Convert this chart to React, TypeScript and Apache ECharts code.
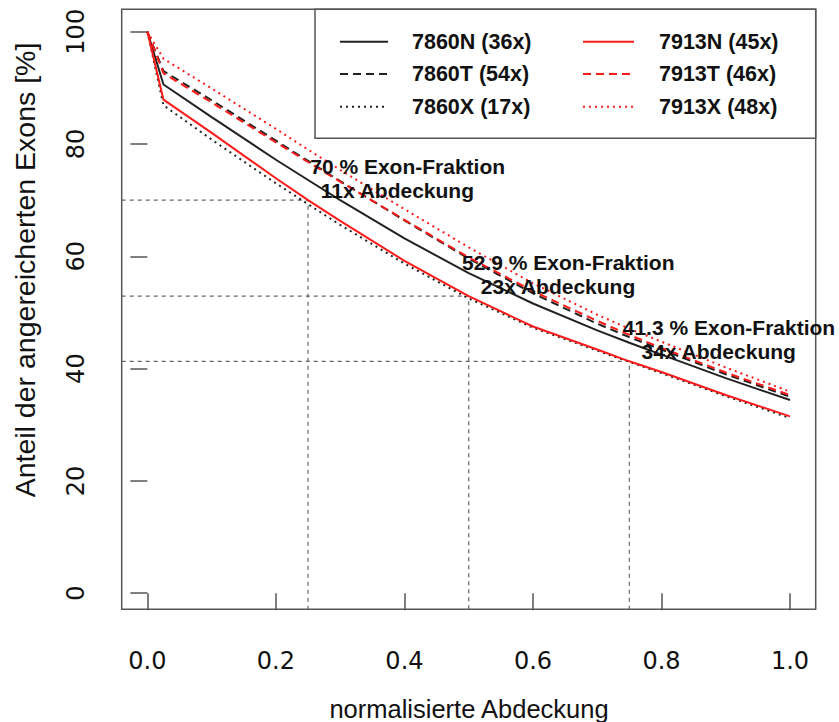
import React, { useEffect, useRef } from 'react';
import * as echarts from 'echarts';

// normalised coverage (x) and share of enriched exons [%] (y)
const coverage = [0, 0.025, 0.1, 0.2, 0.25, 0.3, 0.4, 0.5, 0.6, 0.7, 0.75, 0.8, 0.9, 1.0];
const exons7860N = [100, 90.6, 84.8, 77.2, 73.6, 70.0, 63.2, 57.0, 51.6, 46.8, 44.6, 42.5, 38.3, 34.4];
const exons7860T = [100, 93.0, 87.8, 80.6, 77.0, 73.4, 66.4, 59.6, 53.4, 48.0, 45.6, 43.4, 39.0, 35.0];
const exons7860X = [100, 86.9, 80.8, 73.0, 69.3, 65.6, 58.7, 52.5, 47.3, 43.2, 41.2, 39.2, 35.1, 31.2];
const exons7913N = [100, 87.9, 82.0, 73.9, 70.0, 66.3, 59.2, 52.9, 47.5, 43.4, 41.3, 39.4, 35.3, 31.5];
const exons7913T = [100, 92.6, 87.4, 80.3, 76.8, 73.3, 66.5, 59.8, 53.8, 48.5, 46.0, 43.7, 39.3, 35.3];
const exons7913X = [100, 95.2, 89.9, 82.7, 79.0, 75.4, 68.4, 61.6, 55.2, 49.6, 47.1, 44.8, 40.2, 35.9];

const seriesNames = ['7860N (36x)', '7860T (54x)', '7860X (17x)', '7913N (45x)', '7913T (46x)', '7913X (48x)'];
const seriesValues = [exons7860N, exons7860T, exons7860X, exons7913N, exons7913T, exons7913X];
const seriesColors = ['#222222', '#222222', '#222222', '#ff1a1a', '#ff1a1a', '#ff1a1a'];
const seriesDash: (number[] | 'solid')[] = ['solid', [8, 5], [2, 4], 'solid', [8, 5], [2, 4]];

const xTicks = [0, 0.2, 0.4, 0.6, 0.8, 1.0];
const yTicks = [0, 20, 40, 60, 80, 100];

const thresholdX = [0.25, 0.5, 0.75];
const thresholdY = [70, 52.9, 41.3];
const fractionLabels = ['70 % Exon-Fraktion', '52.9 % Exon-Fraktion', '41.3 % Exon-Fraktion'];
const depthLabels = ['11x Abdeckung', '23x Abdeckung', '34x Abdeckung'];

const X_MIN = -0.04;
const X_MAX = 1.04;
const Y_MIN = -2.87;
const Y_MAX = 104;

const FONT = '"Liberation Sans", Arial, sans-serif';
const TICK_FONT = '"DejaVu Sans", sans-serif';

export default function App() {
  const ref = useRef<HTMLDivElement>(null);

  useEffect(() => {
    if (!ref.current) return;
    const chart = echarts.init(ref.current, null, { renderer: 'svg' });

    const lineSeries = seriesNames.map((name, i) => ({
      name,
      type: 'line',
      data: coverage.map((x, j) => [x, seriesValues[i][j]]),
      symbol: 'none',
      silent: true,
      z: 3,
      lineStyle: { color: seriesColors[i], width: 2, type: seriesDash[i], cap: 'butt' },
    }));

    const refSeries = thresholdX.map((tx, i) => ({
      name: 'ref' + i,
      type: 'line',
      data: [
        [X_MIN, thresholdY[i]],
        [tx, thresholdY[i]],
        [tx, Y_MIN],
      ],
      symbol: 'none',
      silent: true,
      z: 2,
      lineStyle: { color: '#666', width: 1.2, type: [4, 4] },
    }));

    chart.setOption({
      animation: false,
      backgroundColor: '#ffffff',
      grid: {
        left: 121.7,
        top: 9.3,
        width: 694,
        height: 600,
        show: true,
        borderColor: '#555',
        borderWidth: 1.5,
        backgroundColor: 'transparent',
      },
      xAxis: {
        type: 'value',
        min: X_MIN,
        max: X_MAX,
        splitLine: { show: false },
        axisLine: { show: false },
        axisTick: {
          show: true,
          customValues: xTicks,
          length: 17,
          inside: false,
          lineStyle: { color: '#555', width: 1.5 },
        },
        axisLabel: {
          customValues: xTicks,
          formatter: (v: number) => v.toFixed(1),
          margin: 40,
          fontSize: 24,
          fontFamily: TICK_FONT,
          color: '#111',
        },
      },
      yAxis: {
        type: 'value',
        min: Y_MIN,
        max: Y_MAX,
        splitLine: { show: false },
        axisLine: { show: false },
        axisTick: {
          show: true,
          customValues: yTicks,
          length: 17,
          inside: false,
          lineStyle: { color: '#555', width: 1.5 },
        },
        axisLabel: {
          customValues: yTicks,
          formatter: (v: number) => String(Math.round(v)),
          rotate: 90,
          margin: 34,
          fontSize: 24,
          fontFamily: TICK_FONT,
          color: '#111',
        },
      },
      series: [...refSeries, ...lineSeries],
    });

    // annotations positioned through the chart's own scales
    const annotations: any[] = [];
    thresholdX.forEach((tx, i) => {
      const p1 = chart.convertToPixel({ gridIndex: 0 }, [tx + 0.155, thresholdY[i] + 6.0]) as number[];
      const p2 = chart.convertToPixel({ gridIndex: 0 }, [tx + 0.139, thresholdY[i] + 1.8]) as number[];
      annotations.push({
        type: 'text',
        x: p1[0],
        y: p1[1],
        z: 10,
        style: {
          text: fractionLabels[i],
          fontSize: 21,
          fontWeight: 'bold',
          fontFamily: FONT,
          fill: '#111',
          align: 'center',
          verticalAlign: 'middle',
        },
      });
      annotations.push({
        type: 'text',
        x: p2[0],
        y: p2[1],
        z: 10,
        style: {
          text: depthLabels[i],
          fontSize: 21,
          fontWeight: 'bold',
          fontFamily: FONT,
          fill: '#111',
          align: 'center',
          verticalAlign: 'middle',
        },
      });
    });

    // legend box (2 columns x 3 rows)
    const legendRowsY = [41.7, 74, 106.7];
    const legendCols = [
      { lx1: 340, lx2: 388, tx: 412 },
      { lx1: 583, lx2: 634, tx: 659 },
    ];
    const legendEls: any[] = [
      {
        type: 'rect',
        shape: { x: 315, y: 9.3, width: 500.7, height: 129 },
        style: { fill: '#fff', stroke: '#555', lineWidth: 1.5 },
        z: 5,
      },
    ];
    seriesNames.forEach((name, i) => {
      const col = legendCols[Math.floor(i / 3)];
      const y = legendRowsY[i % 3];
      const dash = seriesDash[i];
      legendEls.push({
        type: 'line',
        shape: { x1: col.lx1, y1: y, x2: col.lx2, y2: y },
        style: {
          stroke: seriesColors[i],
          lineWidth: 2,
          lineDash: dash === 'solid' ? null : dash,
        },
        z: 6,
      });
      legendEls.push({
        type: 'text',
        x: col.tx,
        y,
        z: 6,
        style: {
          text: name,
          fontSize: 21.5,
          fontWeight: 'bold',
          fontFamily: FONT,
          fill: '#111',
          align: 'left',
          verticalAlign: 'middle',
        },
      });
    });

    const titles: any[] = [
      {
        type: 'text',
        x: 469,
        y: 709,
        style: {
          text: 'normalisierte Abdeckung',
          fontSize: 25.5,
          fontFamily: FONT,
          fill: '#111',
          align: 'center',
          verticalAlign: 'middle',
        },
      },
      {
        type: 'text',
        x: 25,
        y: 270,
        rotation: Math.PI / 2,
        style: {
          text: 'Anteil der angereicherten Exons [%]',
          fontSize: 28.5,
          fontFamily: FONT,
          fill: '#111',
          align: 'center',
          verticalAlign: 'middle',
        },
      },
    ];

    chart.setOption({ graphic: [...legendEls, ...annotations, ...titles] });

    return () => chart.dispose();
  }, []);

  return (
    <div
      ref={ref}
      style={{ position: 'fixed', left: 0, top: 0, width: 839, height: 722, background: '#fff' }}
    />
  );
}
